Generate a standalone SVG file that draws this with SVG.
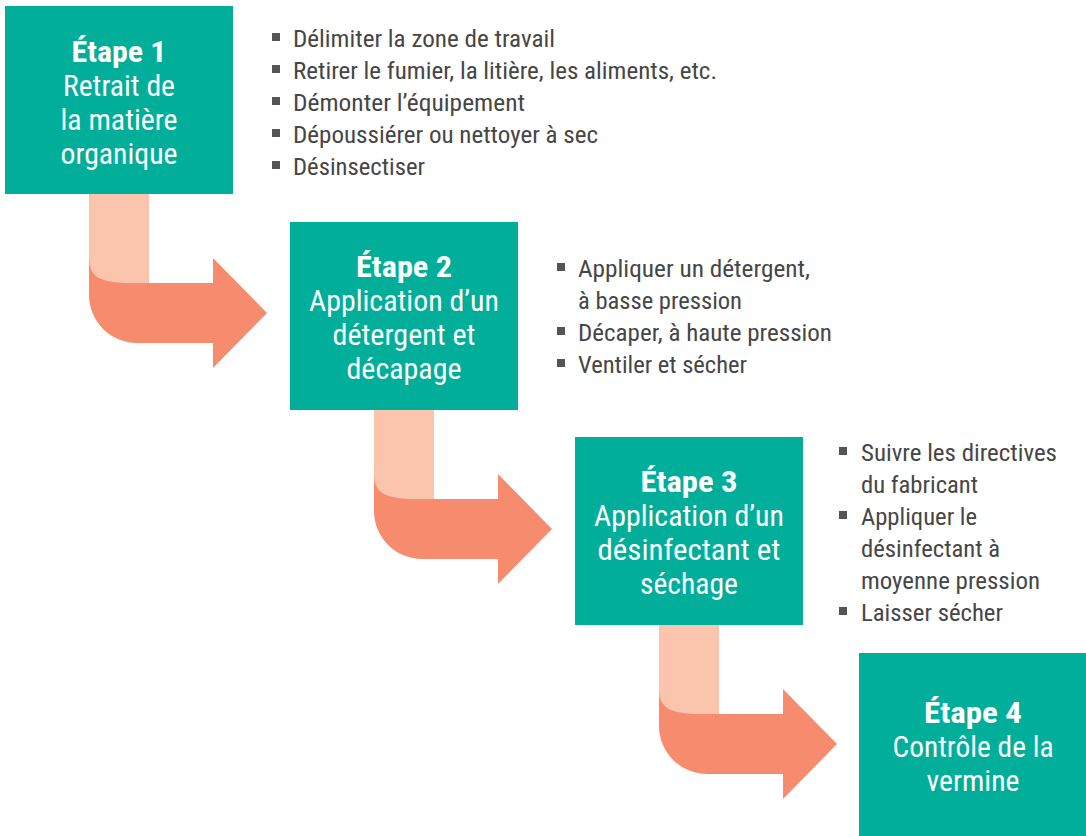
<svg xmlns="http://www.w3.org/2000/svg" xmlns:xlink="http://www.w3.org/1999/xlink" width="1086" height="836" viewBox="0 0 1086 836">
<style>
.box{fill:#00AE9A}
.bt{font-family:"Roboto Condensed","Liberation Sans Narrow",Roboto,"Liberation Sans",sans-serif;font-size:29px;fill:#fff;text-anchor:middle}
.bt .h{font-weight:bold}
.li{font-family:"Roboto Condensed","Liberation Sans Narrow",Roboto,"Liberation Sans",sans-serif;font-size:24px;fill:#464646}
.sq{fill:#555}
.light{fill:#FBC4AD}
.dark{fill:#F68C6D}
</style>
<defs>
<g id="arrow">
<rect class="light" x="84" y="186" width="60" height="95"/>
<path class="dark" d="M84 251 C84 270 93 277 126 277 L208 277 L208 252 L262 307 L208 362 L208 337 L132 337 A48 48 0 0 1 84 289 Z"/>
</g>
</defs>
<g id="connectors">
<use xlink:href="#arrow" transform="translate(5,6)"/>
<use xlink:href="#arrow" transform="translate(290,222)"/>
<use xlink:href="#arrow" transform="translate(575,437)"/>
</g>
<g id="step1">
<rect class="box" x="5" y="6" width="228" height="188"/>
<text class="bt"><tspan class="h" x="119" y="62" textLength="95" lengthAdjust="spacingAndGlyphs">Étape 1</tspan><tspan x="119" y="96" textLength="112" lengthAdjust="spacingAndGlyphs">Retrait de</tspan><tspan x="119" y="130" textLength="117" lengthAdjust="spacingAndGlyphs">la matière</tspan><tspan x="119" y="164" textLength="117" lengthAdjust="spacingAndGlyphs">organique</tspan></text>
</g>
<g id="list1">
<rect class="sq" x="272" y="33" width="8" height="8"/>
<rect class="sq" x="272" y="65" width="8" height="8"/>
<rect class="sq" x="272" y="97" width="8" height="8"/>
<rect class="sq" x="272" y="129" width="8" height="8"/>
<rect class="sq" x="272" y="161" width="8" height="8"/>
<text class="li" x="293" y="47" textLength="262" lengthAdjust="spacingAndGlyphs">Délimiter la zone de travail</text>
<text class="li" x="293" y="79" textLength="424" lengthAdjust="spacingAndGlyphs">Retirer le fumier, la litière, les aliments, etc.</text>
<text class="li" x="293" y="111" textLength="232" lengthAdjust="spacingAndGlyphs">Démonter l’équipement</text>
<text class="li" x="293" y="143" textLength="305" lengthAdjust="spacingAndGlyphs">Dépoussiérer ou nettoyer à sec</text>
<text class="li" x="293" y="175" textLength="132" lengthAdjust="spacingAndGlyphs">Désinsectiser</text>
</g>
<g id="step2">
<rect class="box" x="290" y="222" width="228" height="188"/>
<text class="bt"><tspan class="h" x="404" y="277" textLength="96" lengthAdjust="spacingAndGlyphs">Étape 2</tspan><tspan x="404" y="311" textLength="190" lengthAdjust="spacingAndGlyphs">Application d’un</tspan><tspan x="404" y="345" textLength="143" lengthAdjust="spacingAndGlyphs">détergent et</tspan><tspan x="404" y="379" textLength="115" lengthAdjust="spacingAndGlyphs">décapage</tspan></text>
</g>
<g id="list2">
<rect class="sq" x="557" y="263" width="8" height="8"/>
<rect class="sq" x="557" y="327" width="8" height="8"/>
<rect class="sq" x="557" y="359" width="8" height="8"/>
<text class="li" x="578" y="277" textLength="232" lengthAdjust="spacingAndGlyphs">Appliquer un détergent,</text>
<text class="li" x="578" y="309" textLength="164" lengthAdjust="spacingAndGlyphs">à basse pression</text>
<text class="li" x="578" y="341" textLength="254" lengthAdjust="spacingAndGlyphs">Décaper, à haute pression</text>
<text class="li" x="578" y="373" textLength="169" lengthAdjust="spacingAndGlyphs">Ventiler et sécher</text>
</g>
<g id="step3">
<rect class="box" x="575" y="437" width="228" height="188"/>
<text class="bt"><tspan class="h" x="689" y="492" textLength="97" lengthAdjust="spacingAndGlyphs">Étape 3</tspan><tspan x="689" y="526" textLength="190" lengthAdjust="spacingAndGlyphs">Application d’un</tspan><tspan x="689" y="560" textLength="183" lengthAdjust="spacingAndGlyphs">désinfectant et</tspan><tspan x="689" y="594" textLength="98" lengthAdjust="spacingAndGlyphs">séchage</tspan></text>
</g>
<g id="list3">
<rect class="sq" x="839" y="447" width="8" height="8"/>
<rect class="sq" x="839" y="511" width="8" height="8"/>
<rect class="sq" x="839" y="607" width="8" height="8"/>
<text class="li" x="861" y="461" textLength="196" lengthAdjust="spacingAndGlyphs">Suivre les directives</text>
<text class="li" x="861" y="493" textLength="117" lengthAdjust="spacingAndGlyphs">du fabricant</text>
<text class="li" x="861" y="525" textLength="116" lengthAdjust="spacingAndGlyphs">Appliquer le</text>
<text class="li" x="861" y="557" textLength="139" lengthAdjust="spacingAndGlyphs">désinfectant à</text>
<text class="li" x="861" y="589" textLength="179" lengthAdjust="spacingAndGlyphs">moyenne pression</text>
<text class="li" x="861" y="621" textLength="142" lengthAdjust="spacingAndGlyphs">Laisser sécher</text>
</g>
<g id="step4">
<rect class="box" x="859" y="653" width="228" height="188"/>
<text class="bt"><tspan class="h" x="973" y="723" textLength="98" lengthAdjust="spacingAndGlyphs">Étape 4</tspan><tspan x="973" y="757" textLength="161" lengthAdjust="spacingAndGlyphs">Contrôle de la</tspan><tspan x="973" y="791" textLength="93" lengthAdjust="spacingAndGlyphs">vermine</tspan></text>
</g>
</svg>
